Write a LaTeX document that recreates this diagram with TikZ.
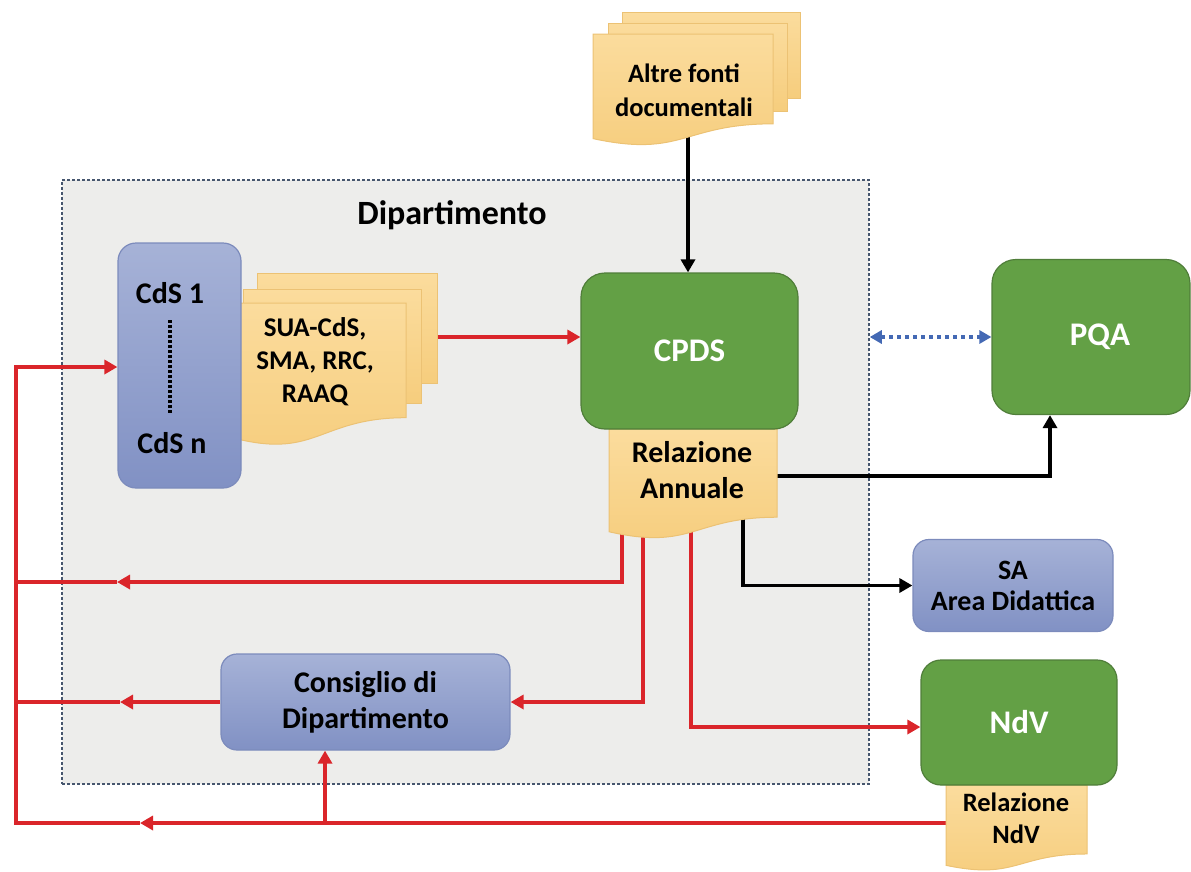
\documentclass[tikz,border=0pt]{standalone}
\usepackage{fontspec}
\setmainfont{Carlito}
\usetikzlibrary{arrows.meta}
\pgfdeclarelayer{back}
\pgfdeclarelayer{mid}
\pgfsetlayers{back,mid,main}
\definecolor{grn}{RGB}{99,160,69}
\definecolor{grnB}{RGB}{80,126,58}
\definecolor{bluT}{RGB}{166,178,215}
\definecolor{bluBt}{RGB}{129,145,196}
\definecolor{bluB}{RGB}{124,139,188}
\definecolor{docT}{RGB}{251,220,157}
\definecolor{docB}{RGB}{246,205,125}
\definecolor{docE}{RGB}{236,194,116}
\definecolor{redc}{RGB}{218,37,42}
\definecolor{deptF}{RGB}{237,237,235}
\definecolor{deptB}{RGB}{70,86,110}
\definecolor{dotB}{RGB}{68,105,180}
\newcommand\myfs[2]{\bfseries\fontsize{#1}{#2}\selectfont}
\newcommand\docshape[4]{%
  \draw[docsty] (#1,#2) -- (#3,#2) -- (#3,{#2+0.802*#4})
    .. controls ({(#1+#3)/2},{#2+0.802*#4}) and ({(#1+#3)/2},{#2+1.1075*#4}) ..
    (#1,{#2+0.934*#4}) -- cycle;}
\tikzset{
  greenbox/.style={draw=grnB, line width=1.2pt, fill=grn, rounded corners=24pt,
    text=white, font=\myfs{33}{38}},
  bluebox/.style={draw=bluB, line width=1.2pt, top color=bluT, bottom color=bluBt,
    rounded corners=16pt, align=center, inner sep=0pt, text=black},
  docsty/.style={draw=docE, line width=1pt, top color=docT, bottom color=docB},
  txt/.style={align=center, inner sep=0pt, text=black},
  redline/.style={draw=redc, line width=3.6pt},
  redarr/.style={redline, -{Triangle[length=13pt,width=14pt]}},
  blkarr/.style={draw=black, line width=3.8pt, -{Triangle[length=13pt,width=14pt]}},
  dotarr/.style={draw=dotB, line width=3.8pt, dash pattern=on 4pt off 4pt,
    {Triangle[length=12pt,width=13pt]}-{Triangle[length=12pt,width=13pt]}},
}
\begin{document}
\begin{tikzpicture}[x=1pt,y=-1pt]
\useasboundingbox (0,0) rectangle (1191,871);

% Dipartimento frame
\begin{pgfonlayer}{back}
\node[draw=deptB, fill=deptF, line width=1.5pt, dash pattern=on 3pt off 2pt,
  minimum width=807pt, minimum height=604pt, inner sep=0pt] (dept) at (465.5,482) {};
\end{pgfonlayer}
\node[txt, font=\myfs{34}{40}] (deptlbl) at (452,215) {Dipartimento};

% boxes
\node[greenbox, minimum width=217pt, minimum height=156pt] (cpds) at (689.5,351) {CPDS};
\node[greenbox, minimum width=198pt, minimum height=155pt] (pqa) at (1091,337) {\hspace*{18pt}PQA};
\node[greenbox, minimum width=196pt, minimum height=125pt, rounded corners=20pt] (ndv) at (1019,722.5) {NdV};
\node[bluebox, minimum width=123pt, minimum height=245pt, rounded corners=18pt] (cds) at (179.5,365.5) {};
\node[txt, font=\myfs{30}{36}] (cds1) at (170,293) {CdS 1};
\node[txt, font=\myfs{30}{36}] (cdsn) at (172,443) {CdS n};
\draw[line width=3.5pt, dash pattern=on 2.5pt off 2.5pt] (170,320) -- (170,413);
\node[bluebox, minimum width=289pt, minimum height=96pt, font=\myfs{30}{36}] (cons) at (365.5,702) {Consiglio di\\Dipartimento};
\node[bluebox, minimum width=200pt, minimum height=92pt, font=\myfs{28}{31}] (sa) at (1013,585.5) {SA\\Area Didattica};

% document texts
\node[txt, font=\myfs{26.5}{34}] (altre) at (684,90) {Altre fonti\\documentali};
\node[txt, font=\myfs{27}{33}] (sua) at (315,362) {SUA-CdS,\\SMA, RRC,\\RAAQ};
\node[txt, font=\myfs{30}{36}] (relann) at (692,470) {Relazione\\Annuale};
\node[txt, font=\myfs{26.5}{32}] (relndv) at (1016,818) {Relazione\\NdV};

\begin{pgfonlayer}{mid}
% connectors
\coordinate (af-s) at (688,135);
\draw[blkarr] (af-s) -- (af-s |- cpds.north);
\coordinate (sua-e) at (437,337);
\draw[redarr] (sua-e) -- (sua-e -| cpds.west);
\draw[dotarr] (dept.east |- pqa.west) -- (pqa.west);
\coordinate (ra-e) at (777,476);
\draw[blkarr] (ra-e) -| ([xshift=-41pt]pqa.south);
\coordinate (ra-s) at (743,515);
\draw[blkarr] (ra-s) |- (sa.west);
\coordinate (ra-n) at (691,528);
\draw[redarr] (ra-n) |- ([yshift=-4.5pt]ndv.west);
\coordinate (ra-c) at (643,528);
\draw[redarr] (ra-c) |- (cons.east);
\coordinate (ra-l) at (622,528);
\coordinate (m1) at (117,582);
\coordinate (b1) at (16,582);
\draw[redarr] (ra-l) |- (m1);
\draw[redline] (m1) -- (b1);
\coordinate (m2) at (120,702);
\coordinate (b2) at (16,702);
\draw[redarr] (cons.west) -- (m2);
\draw[redline] (m2) -- (b2);
\coordinate (rn-w) at (946,823);
\coordinate (m3) at (140,823);
\coordinate (b3) at (16,823);
\coordinate (b0) at (16,367);
\draw[redarr] (rn-w) -- (m3);
\draw[redarr] (m3) -- (b3) -- (b0) -- (b0 -| cds.west);
\coordinate (br) at (325,823);
\draw[redarr] (br) -- (br |- cons.south);

% documents
\draw[docsty] (622,12) rectangle (800,98);
\draw[docsty] (608,23) rectangle (787,111);
\docshape{593}{34}{773}{112}
\draw[docsty] (257,273) rectangle (437,383);
\draw[docsty] (243,289) rectangle (421,403);
\docshape{228}{303}{406}{143}
\docshape{609}{429}{777}{110}
\docshape{946}{785}{1087}{86}
\end{pgfonlayer}
\end{tikzpicture}
\end{document}
